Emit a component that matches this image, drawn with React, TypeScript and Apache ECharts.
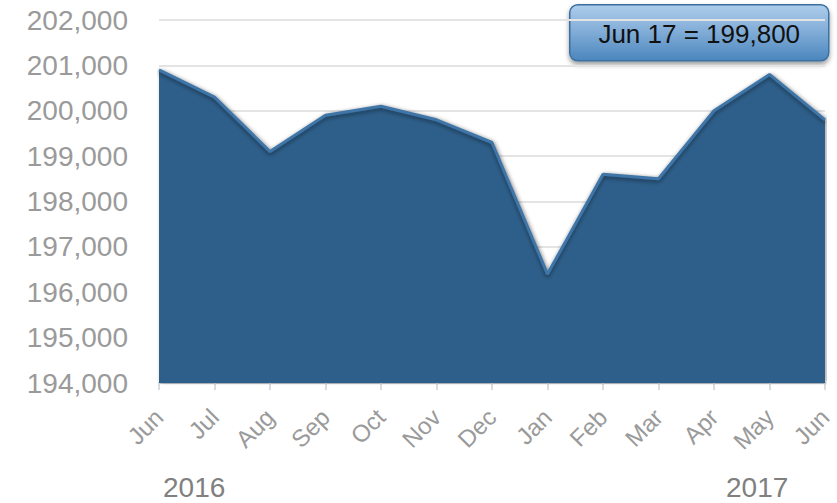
import React, { useEffect, useRef } from "react";
import * as echarts from "echarts";

const months = ["Jun", "Jul", "Aug", "Sep", "Oct", "Nov", "Dec", "Jan", "Feb", "Mar", "Apr", "May", "Jun"];
const values = [200900, 200300, 199100, 199900, 200100, 199800, 199300, 196400, 198600, 198500, 200000, 200800, 199800];
const yearLabels = ["2016", "2017"];
const calloutText = "Jun 17 = 199,800";

export default function App() {
  const ref = useRef<HTMLDivElement>(null);
  useEffect(() => {
    if (!ref.current) return;
    const chart = echarts.init(ref.current, null, { renderer: "svg" });
    const font = "Arial, 'Liberation Sans', Helvetica, sans-serif";
    chart.setOption({
      animation: false,
      grid: { left: 159, right: 12, top: 20, bottom: 120, containLabel: false },
      xAxis: {
        type: "category",
        data: months,
        boundaryGap: false,
        axisLine: { show: true, lineStyle: { color: "#c5ced8", width: 2 } },
        axisTick: { show: true, length: 7, lineStyle: { color: "#d8dde2", width: 2 } },
        axisLabel: { rotate: 45, margin: 30, color: "#9a9a9a", fontSize: 24, fontFamily: font },
        splitLine: { show: false },
      },
      yAxis: {
        type: "value",
        min: 194000,
        max: 202000,
        interval: 1000,
        axisLine: { show: false },
        axisTick: { show: false },
        axisLabel: {
          margin: 31,
          color: "#9a9a9a",
          fontSize: 28,
          fontFamily: font,
          formatter: (v: number) => v.toLocaleString("en-US"),
        },
        splitLine: { show: true, lineStyle: { color: "#e4e4e4", width: 2 } },
      },
      series: [
        {
          type: "line",
          data: values,
          symbol: "none",
          lineStyle: {
            color: "#3f75a8",
            width: 3,
            shadowColor: "rgba(0,0,0,0.45)",
            shadowBlur: 4,
            shadowOffsetY: 2,
          },
          areaStyle: {
            color: "#2d5f8a",
            opacity: 1,
            shadowColor: "rgba(0,0,0,0.35)",
            shadowBlur: 5,
            shadowOffsetX: 2,
          },
          z: 3,
        },
      ],
      graphic: [
        {
          type: "text",
          left: 163,
          top: 473,
          style: { text: yearLabels[0], font: `28px ${font}`, fill: "#808080" },
        },
        {
          type: "text",
          left: 726,
          top: 473,
          style: { text: yearLabels[1], font: `28px ${font}`, fill: "#808080" },
        },
        {
          type: "group",
          left: 569,
          top: 4,
          children: [
            {
              type: "rect",
              shape: { x: 0, y: 0, width: 259, height: 56, r: 8 },
              style: {
                fill: new echarts.graphic.LinearGradient(0, 0, 0, 1, [
                  { offset: 0, color: "#aecdec" },
                  { offset: 0.5, color: "#7fabd6" },
                  { offset: 1, color: "#4a86bd" },
                ]),
                stroke: "#3b6f9f",
                lineWidth: 1.5,
                shadowColor: "rgba(0,0,0,0.4)",
                shadowBlur: 5,
                shadowOffsetY: 3,
              },
            },
            {
              type: "text",
              x: 129.5,
              y: 29,
              style: {
                text: calloutText,
                font: `26px ${font}`,
                fill: "#111111",
                align: "center",
                verticalAlign: "middle",
              },
            },
          ],
        },
      ],
    });
    return () => chart.dispose();
  }, []);
  return (
    <div
      ref={ref}
      style={{ position: "fixed", left: 0, top: 0, width: 837, height: 503, background: "#ffffff" }}
    />
  );
}
